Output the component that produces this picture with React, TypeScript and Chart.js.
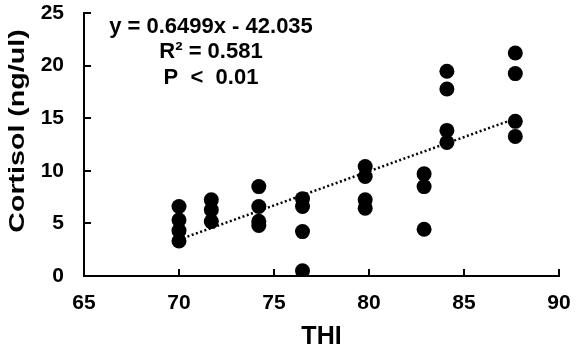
import React, { useEffect, useRef } from "react";
import { Chart, registerables } from "chart.js";

Chart.register(...registerables);

// THI columns and cortisol values
const thi70 = [70.0, 70.0, 70.0, 70.0];
const cort70 = [6.6, 5.33, 4.31, 3.33];
const thi71 = [71.7, 71.7, 71.7];
const cort71 = [7.24, 6.29, 5.17];
const thi74 = [74.2, 74.2, 74.2, 74.2];
const cort74 = [8.5, 6.6, 5.2, 4.8];
const thi76 = [76.5, 76.5, 76.5, 76.5];
const cort76 = [7.35, 6.6, 4.22, 0.5];
const thi79 = [79.8, 79.8, 79.8, 79.8];
const cort79 = [10.41, 9.46, 7.24, 6.45];
const thi82 = [82.9, 82.9, 82.9];
const cort82 = [9.71, 8.5, 4.45];
const thi84 = [84.1, 84.1, 84.1, 84.1];
const cort84 = [19.46, 17.78, 13.84, 12.7];
const thi87 = [87.7, 87.7, 87.7, 87.7];
const cort87 = [21.2, 19.24, 14.7, 13.27];

const slope = 0.6499;
const intercept = -42.035;
const trendX = [70, 87.7];

const xTicks = [65, 70, 75, 80, 85, 90];
const yTicks = [0, 5, 10, 15, 20, 25];

const annotationLines = ["y = 0.6499x - 42.035", "R² = 0.581", "P  <  0.01"];
const yTitle = "Cortisol (ng/ul)";

const FONT = "'Liberation Sans', Arial, Helvetica, sans-serif";

export default function App() {
  const ref = useRef<HTMLCanvasElement | null>(null);

  useEffect(() => {
    document.body.style.margin = "0";
    const canvas = ref.current;
    if (!canvas) return;

    const allX = [thi70, thi71, thi74, thi76, thi79, thi82, thi84, thi87];
    const allY = [cort70, cort71, cort74, cort76, cort79, cort82, cort84, cort87];
    const points: { x: number; y: number }[] = [];
    allX.forEach((xs, i) => xs.forEach((x, j) => points.push({ x, y: allY[i][j] })));
    const trend = trendX.map((x) => ({ x, y: slope * x + intercept }));

    const innerTicks = {
      id: "innerTicks",
      afterDraw(chart: any) {
        const ctx = chart.ctx;
        const xs = chart.scales.x;
        const ys = chart.scales.y;
        const area = chart.chartArea;
        ctx.save();
        ctx.strokeStyle = "#000";
        ctx.lineWidth = 2;
        ctx.beginPath();
        xTicks.forEach((v) => {
          const px = Math.round(xs.getPixelForValue(v));
          ctx.moveTo(px, area.bottom);
          ctx.lineTo(px, area.bottom - 7);
        });
        yTicks.forEach((v) => {
          const py = Math.round(ys.getPixelForValue(v));
          ctx.moveTo(area.left, py);
          ctx.lineTo(area.left + 7, py);
        });
        ctx.stroke();
        // annotation
        ctx.fillStyle = "#000";
        ctx.font = `bold 22px ${FONT}`;
        ctx.textAlign = "center";
        ctx.textBaseline = "middle";
        const cx = 211;
        const ys0 = [27, 52, 78];
        annotationLines.forEach((t, i) => ctx.fillText(t, cx, ys0[i]));
        // y-axis title (stretched along its length like the original)
        ctx.save();
        ctx.translate(18, 131);
        ctx.rotate(-Math.PI / 2);
        ctx.scale(1.3, 1);
        ctx.font = `bold 22px ${FONT}`;
        ctx.fillText(yTitle, 0, 0);
        ctx.restore();
        ctx.restore();
      },
    };

    const chart = new Chart(canvas, {
      type: "scatter",
      data: {
        datasets: [
          {
            data: points,
            backgroundColor: "#000",
            borderColor: "#000",
            pointRadius: 7.5,
            pointHoverRadius: 7.5,
            borderWidth: 0,
          },
          {
            type: "line",
            data: trend,
            borderColor: "#000",
            borderWidth: 2.5,
            borderDash: [2, 2.5],
            pointRadius: 0,
            fill: false,
          } as any,
        ],
      },
      options: {
        responsive: false,
        animation: false,
        layout: { padding: { top: 13, right: 18, left: 0, bottom: 0 } },
        plugins: { legend: { display: false }, tooltip: { enabled: false } },
        scales: {
          x: {
            type: "linear",
            min: 65,
            max: 90,
            grid: { display: false, drawTicks: false },
            border: { display: true, color: "#000", width: 2 },
            ticks: {
              stepSize: 5,
              color: "#000",
              padding: 15,
              font: { family: FONT, size: 21, weight: "bold" },
            },
            title: {
              display: true,
              text: "THI",
              color: "#000",
              font: { family: FONT, size: 25, weight: "bold" },
              padding: { top: 0, bottom: 3 },
            },
            afterFit(scale: any) {
              scale.height = 79;
              scale.paddingLeft = 0;
              scale.paddingRight = 0;
            },
          },
          y: {
            type: "linear",
            min: 0,
            max: 25,
            grid: { display: false, drawTicks: false },
            border: { display: true, color: "#000", width: 2 },
            ticks: {
              stepSize: 5,
              color: "#000",
              padding: 20,
              font: { family: FONT, size: 21, weight: "bold" },
            },
            afterFit(scale: any) {
              scale.width = 84;
              scale.paddingTop = 0;
              scale.paddingBottom = 0;
            },
          },
        },
      },
      plugins: [innerTicks],
    });

    return () => chart.destroy();
  }, []);

  return (
    <div style={{ width: 577, height: 355, background: "#fff" }}>
      <canvas ref={ref} width={577} height={355} style={{ width: 577, height: 355, display: "block" }} />
    </div>
  );
}
